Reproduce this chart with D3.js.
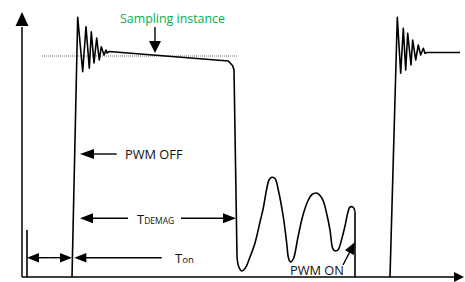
<!DOCTYPE html>
<html>
<head>
<meta charset="utf-8">
<script src="https://cdn.jsdelivr.net/npm/d3@7"></script>
<style>
  body { margin: 0; background: #fff; }
  text { font-family: "Open Sans", sans-serif; }
</style>
</head>
<body>
<div id="container"></div>
<script>
// waveform pieces, [time, voltage] in arbitrary units (1 unit ~ 1 px)
// pulse turning off, ringing, flat top, then the fall at end of demag
const pulseOff = [
    [50, 0], [55.7, 259.7], [60.7, 205.3], [64, 250.3], [67.3, 208.7], [69.3, 245.3],
    [72, 214], [74.7, 239], [77.3, 217], [79.3, 230.3], [82, 222], [84, 227],
    [85, 224], [87, 225.5], [206.3, 216], [210.7, 211.3], [212, 207], [215, 21]
];
// valley ringing after demag, drawn smooth
const valleys = [
    [215, 21], [216.5, 11], [219.7, 6], [223, 8.5], [228, 20], [233, 34], [238, 55],
    [241.3, 69], [244.7, 88], [247, 97], [249.7, 99.7], [253, 98.5], [256.3, 87],
    [261.3, 60], [264.7, 34], [266.5, 19], [268.5, 15], [271.3, 18], [276, 40],
    [281, 62], [286.3, 77], [290, 82.5], [294.7, 84], [298, 81.5], [301.3, 76],
    [305, 62], [308, 47], [311, 28], [313.5, 26], [316.3, 27.5], [320, 39],
    [323, 51], [326, 65], [328, 70], [331.3, 69.7], [333, 65.3]
];
// PWM on: switch pulls node to ground
const pwmOn = [[333, 65.3], [333, 0]];
// next switching cycle
const pulseNext = [
    [368, 0], [375.3, 259.7], [378.7, 203.7], [381.3, 248.7], [383.7, 207], [385.7, 243.7],
    [389, 212], [390.7, 237], [393.7, 217], [396.3, 232], [398.7, 222], [401.3, 228.7],
    [403, 223.7], [405, 224.5], [438, 224.5]
];
// start of Ton marker
const tonStart = [[5, 0], [5, 47]];
// sampling level (dotted)
const sampleLevel = [[20, 221], [215, 221]];

const width = 465;
const height = 282;

const x = d3.scaleLinear().domain([0, 442]).range([22, 464]);
const y = d3.scaleLinear().domain([0, 265]).range([277, 12]);

const svg = d3.select("#container")
    .append("svg")
    .attr("width", width)
    .attr("height", height);

const line = d3.line().x(d => x(d[0])).y(d => y(d[1]));
const smooth = d3.line().x(d => x(d[0])).y(d => y(d[1])).curve(d3.curveCatmullRom);

// filled arrow head at (tx,ty) pointing in direction angle
function head(tx, ty, ang, len, half) {
    const c = Math.cos(ang), s = Math.sin(ang);
    const bx = tx - c * len, by = ty - s * len;
    const pts = [[tx, ty], [bx - s * half, by + c * half], [bx + s * half, by - c * half]];
    svg.append("path")
        .attr("d", "M" + pts.map(p => p.join(",")).join("L") + "Z")
        .attr("fill", "#000");
}

function arrow(x1, y1, x2, y2, len = 13, half = 5) {
    const ang = Math.atan2(y2 - y1, x2 - x1);
    svg.append("line")
        .attr("x1", x1).attr("y1", y1)
        .attr("x2", x2 - Math.cos(ang) * (len - 1)).attr("y2", y2 - Math.sin(ang) * (len - 1))
        .attr("stroke", "#000").attr("stroke-width", 1.4);
    head(x2, y2, ang, len, half);
}

// axes
svg.append("line")
    .attr("x1", x(0)).attr("x2", x(0))
    .attr("y1", y(0)).attr("y2", y(250))
    .attr("stroke", "#000").attr("stroke-width", 1.5);
head(x(0), y(265), -Math.PI / 2, 14, 6.5);
svg.append("line")
    .attr("x1", x(0)).attr("x2", x(432))
    .attr("y1", y(0)).attr("y2", y(0))
    .attr("stroke", "#000").attr("stroke-width", 1.5);
head(x(442), y(0), 0, 10, 5);

// dotted sampling level
svg.append("path")
    .attr("d", line(sampleLevel))
    .attr("stroke", "#444").attr("stroke-width", 0.8)
    .attr("stroke-dasharray", "1,1").attr("fill", "none");

// waveform
[pulseOff, pwmOn, pulseNext, tonStart].forEach(seg => {
    svg.append("path")
        .attr("d", line(seg))
        .attr("stroke", "#000").attr("stroke-width", 1.6)
        .attr("fill", "none").attr("stroke-linejoin", "round");
});
svg.append("path")
    .attr("d", smooth(valleys))
    .attr("stroke", "#000").attr("stroke-width", 1.6)
    .attr("fill", "none");

// annotations
arrow(x(133), y(250), x(133), y(224), 12, 6);            // sampling instance
arrow(x(94.7), y(123), x(58), y(123), 14, 5);             // PWM OFF
arrow(x(106), y(58.7), x(58), y(58.7), 13, 5);            // Tdemag left
arrow(x(159), y(58.7), x(214), y(58.7), 13, 5);           // Tdemag right
arrow(x(27.5), y(19.3), x(5), y(19.3), 12, 4.7);          // Ton double
arrow(x(27.5), y(19.3), x(50), y(19.3), 12, 4.7);
arrow(x(139.7), y(19.3), x(52.3), y(19.3), 12, 4.7);      // Ton
arrow(x(321), y(12), x(333), y(35), 12, 5);               // PWM ON

svg.append("text")
    .attr("x", x(98)).attr("y", y(254))
    .attr("fill", "#00b050").attr("font-size", 12.4)
    .text("Sampling instance");

svg.append("text")
    .attr("x", x(103)).attr("y", y(118.5))
    .attr("fill", "#111").attr("font-size", 12.8)
    .text("PWM OFF");

const td = svg.append("text")
    .attr("x", x(115)).attr("y", y(53))
    .attr("fill", "#111").attr("font-size", 13);
td.append("tspan").text("T");
td.append("tspan").attr("font-size", 8.5).text("DEMAG");

const ton = svg.append("text")
    .attr("x", x(153)).attr("y", y(14.3))
    .attr("fill", "#111").attr("font-size", 13);
ton.append("tspan").text("T");
ton.append("tspan").attr("font-size", 9.5).text("on");

svg.append("text")
    .attr("x", x(268)).attr("y", y(2))
    .attr("fill", "#111").attr("font-size", 12.8)
    .text("PWM ON");
</script>
</body>
</html>
